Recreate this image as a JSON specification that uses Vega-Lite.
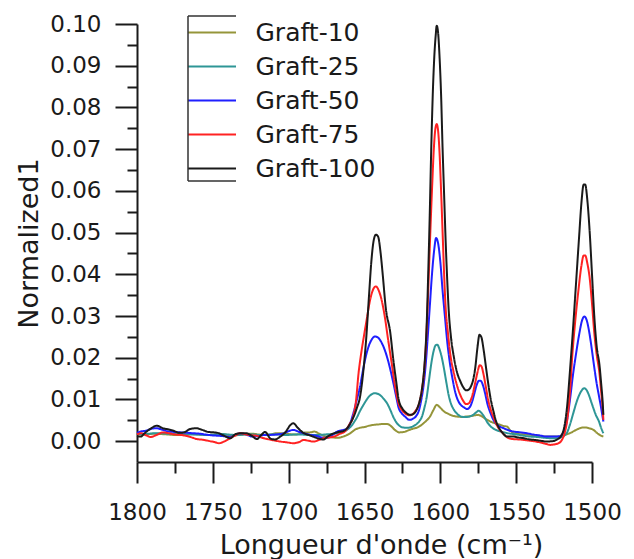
{
  "$schema": "https://vega.github.io/schema/vega-lite/v6.json",
  "autosize": {"type": "none"},
  "width": 455,
  "height": 438,
  "padding": {"left": 137, "top": 24, "right": 42, "bottom": 97},
  "background": "white",
  "config": {"view": {"stroke": null}, "font": "DejaVu Sans"},
  "data": {"values": [
    {"w":1800,"s":"Graft-10","a":0.0017},{"w":1796,"s":"Graft-10","a":0.0016},{"w":1792,"s":"Graft-10","a":0.0017},{"w":1788,"s":"Graft-10","a":0.0018},{"w":1784,"s":"Graft-10","a":0.0017},{"w":1780,"s":"Graft-10","a":0.0016},{"w":1776,"s":"Graft-10","a":0.0015},{"w":1772,"s":"Graft-10","a":0.0015},{"w":1768,"s":"Graft-10","a":0.0016},{"w":1764,"s":"Graft-10","a":0.0017},{"w":1760,"s":"Graft-10","a":0.0016},{"w":1756,"s":"Graft-10","a":0.0015},{"w":1752,"s":"Graft-10","a":0.0015},{"w":1748,"s":"Graft-10","a":0.0016},{"w":1744,"s":"Graft-10","a":0.0016},{"w":1740,"s":"Graft-10","a":0.0015},{"w":1736,"s":"Graft-10","a":0.0014},{"w":1732,"s":"Graft-10","a":0.0015},{"w":1728,"s":"Graft-10","a":0.0017},{"w":1724,"s":"Graft-10","a":0.0018},{"w":1720,"s":"Graft-10","a":0.0016},{"w":1716,"s":"Graft-10","a":0.0015},{"w":1712,"s":"Graft-10","a":0.0016},{"w":1708,"s":"Graft-10","a":0.0019},{"w":1704,"s":"Graft-10","a":0.0019},{"w":1700,"s":"Graft-10","a":0.0017},{"w":1696,"s":"Graft-10","a":0.0016},{"w":1692,"s":"Graft-10","a":0.0018},{"w":1689,"s":"Graft-10","a":0.0021},{"w":1686,"s":"Graft-10","a":0.0021},{"w":1683,"s":"Graft-10","a":0.0023},{"w":1680,"s":"Graft-10","a":0.0018},{"w":1677,"s":"Graft-10","a":0.0013},{"w":1674,"s":"Graft-10","a":0.0010},{"w":1671,"s":"Graft-10","a":0.0009},{"w":1668,"s":"Graft-10","a":0.0008},{"w":1665,"s":"Graft-10","a":0.0010},{"w":1662,"s":"Graft-10","a":0.0014},{"w":1659,"s":"Graft-10","a":0.0020},{"w":1656,"s":"Graft-10","a":0.0028},{"w":1653,"s":"Graft-10","a":0.0032},{"w":1650,"s":"Graft-10","a":0.0034},{"w":1647,"s":"Graft-10","a":0.0037},{"w":1644,"s":"Graft-10","a":0.0039},{"w":1641,"s":"Graft-10","a":0.0040},{"w":1638,"s":"Graft-10","a":0.0041},{"w":1635,"s":"Graft-10","a":0.0041},{"w":1632.5,"s":"Graft-10","a":0.0036},{"w":1630,"s":"Graft-10","a":0.0027},{"w":1627,"s":"Graft-10","a":0.0021},{"w":1624,"s":"Graft-10","a":0.0022},{"w":1621,"s":"Graft-10","a":0.0026},{"w":1618,"s":"Graft-10","a":0.0030},{"w":1615,"s":"Graft-10","a":0.0033},{"w":1612,"s":"Graft-10","a":0.0040},{"w":1609.5,"s":"Graft-10","a":0.0048},{"w":1607,"s":"Graft-10","a":0.0058},{"w":1604.5,"s":"Graft-10","a":0.0075},{"w":1602.4,"s":"Graft-10","a":0.0087},{"w":1600,"s":"Graft-10","a":0.0080},{"w":1597.5,"s":"Graft-10","a":0.0071},{"w":1595,"s":"Graft-10","a":0.0066},{"w":1592,"s":"Graft-10","a":0.0061},{"w":1589,"s":"Graft-10","a":0.0059},{"w":1586,"s":"Graft-10","a":0.0058},{"w":1583,"s":"Graft-10","a":0.0059},{"w":1580,"s":"Graft-10","a":0.0060},{"w":1577,"s":"Graft-10","a":0.0062},{"w":1575,"s":"Graft-10","a":0.0063},{"w":1573,"s":"Graft-10","a":0.0060},{"w":1570,"s":"Graft-10","a":0.0053},{"w":1567,"s":"Graft-10","a":0.0047},{"w":1564,"s":"Graft-10","a":0.0043},{"w":1561,"s":"Graft-10","a":0.0040},{"w":1558,"s":"Graft-10","a":0.0036},{"w":1556,"s":"Graft-10","a":0.0035},{"w":1554,"s":"Graft-10","a":0.0026},{"w":1551.5,"s":"Graft-10","a":0.0019},{"w":1548,"s":"Graft-10","a":0.0017},{"w":1544,"s":"Graft-10","a":0.0016},{"w":1540,"s":"Graft-10","a":0.0015},{"w":1535,"s":"Graft-10","a":0.0013},{"w":1530,"s":"Graft-10","a":0.0011},{"w":1525,"s":"Graft-10","a":0.0011},{"w":1521,"s":"Graft-10","a":0.0011},{"w":1517,"s":"Graft-10","a":0.0016},{"w":1514,"s":"Graft-10","a":0.0020},{"w":1511,"s":"Graft-10","a":0.0026},{"w":1508,"s":"Graft-10","a":0.0031},{"w":1505,"s":"Graft-10","a":0.0033},{"w":1502,"s":"Graft-10","a":0.0031},{"w":1499,"s":"Graft-10","a":0.0027},{"w":1496.5,"s":"Graft-10","a":0.0019},{"w":1494.5,"s":"Graft-10","a":0.0014},{"w":1492.5,"s":"Graft-10","a":0.0011},

    {"w":1800,"s":"Graft-25","a":0.0018},{"w":1796,"s":"Graft-25","a":0.0017},{"w":1792,"s":"Graft-25","a":0.0018},{"w":1788,"s":"Graft-25","a":0.0019},{"w":1784,"s":"Graft-25","a":0.0019},{"w":1780,"s":"Graft-25","a":0.0018},{"w":1776,"s":"Graft-25","a":0.0018},{"w":1772,"s":"Graft-25","a":0.0017},{"w":1768,"s":"Graft-25","a":0.0016},{"w":1764,"s":"Graft-25","a":0.0016},{"w":1760,"s":"Graft-25","a":0.0016},{"w":1756,"s":"Graft-25","a":0.0015},{"w":1752,"s":"Graft-25","a":0.0015},{"w":1748,"s":"Graft-25","a":0.0016},{"w":1744,"s":"Graft-25","a":0.0017},{"w":1740,"s":"Graft-25","a":0.0016},{"w":1736,"s":"Graft-25","a":0.0015},{"w":1732,"s":"Graft-25","a":0.0015},{"w":1728,"s":"Graft-25","a":0.0016},{"w":1724,"s":"Graft-25","a":0.0016},{"w":1720,"s":"Graft-25","a":0.0015},{"w":1716,"s":"Graft-25","a":0.0015},{"w":1712,"s":"Graft-25","a":0.0016},{"w":1708,"s":"Graft-25","a":0.0016},{"w":1704,"s":"Graft-25","a":0.0015},{"w":1700,"s":"Graft-25","a":0.0015},{"w":1696,"s":"Graft-25","a":0.0016},{"w":1692,"s":"Graft-25","a":0.0016},{"w":1688,"s":"Graft-25","a":0.0015},{"w":1684,"s":"Graft-25","a":0.0015},{"w":1680,"s":"Graft-25","a":0.0015},{"w":1676,"s":"Graft-25","a":0.0016},{"w":1672,"s":"Graft-25","a":0.0017},{"w":1668,"s":"Graft-25","a":0.0019},{"w":1665,"s":"Graft-25","a":0.0021},{"w":1662,"s":"Graft-25","a":0.0026},{"w":1659,"s":"Graft-25","a":0.0035},{"w":1657,"s":"Graft-25","a":0.0045},{"w":1655,"s":"Graft-25","a":0.0057},{"w":1653,"s":"Graft-25","a":0.0072},{"w":1651,"s":"Graft-25","a":0.0085},{"w":1649,"s":"Graft-25","a":0.0097},{"w":1647,"s":"Graft-25","a":0.0107},{"w":1645,"s":"Graft-25","a":0.0113},{"w":1643,"s":"Graft-25","a":0.0115},{"w":1641,"s":"Graft-25","a":0.0113},{"w":1639,"s":"Graft-25","a":0.0108},{"w":1637,"s":"Graft-25","a":0.0100},{"w":1635,"s":"Graft-25","a":0.0090},{"w":1633,"s":"Graft-25","a":0.0075},{"w":1631,"s":"Graft-25","a":0.0058},{"w":1629,"s":"Graft-25","a":0.0045},{"w":1627,"s":"Graft-25","a":0.0037},{"w":1625,"s":"Graft-25","a":0.0033},{"w":1622,"s":"Graft-25","a":0.0032},{"w":1619,"s":"Graft-25","a":0.0034},{"w":1616,"s":"Graft-25","a":0.0040},{"w":1614,"s":"Graft-25","a":0.0047},{"w":1612,"s":"Graft-25","a":0.0060},{"w":1610.5,"s":"Graft-25","a":0.0080},{"w":1609,"s":"Graft-25","a":0.0105},{"w":1607.5,"s":"Graft-25","a":0.0145},{"w":1606,"s":"Graft-25","a":0.0185},{"w":1604.5,"s":"Graft-25","a":0.0215},{"w":1603,"s":"Graft-25","a":0.0230},{"w":1602,"s":"Graft-25","a":0.0231},{"w":1600.5,"s":"Graft-25","a":0.0220},{"w":1599,"s":"Graft-25","a":0.0200},{"w":1597.5,"s":"Graft-25","a":0.0172},{"w":1596,"s":"Graft-25","a":0.0140},{"w":1594.5,"s":"Graft-25","a":0.0110},{"w":1593,"s":"Graft-25","a":0.0090},{"w":1591,"s":"Graft-25","a":0.0075},{"w":1589,"s":"Graft-25","a":0.0066},{"w":1587,"s":"Graft-25","a":0.0060},{"w":1585,"s":"Graft-25","a":0.0058},{"w":1582.5,"s":"Graft-25","a":0.0058},{"w":1580,"s":"Graft-25","a":0.0060},{"w":1578,"s":"Graft-25","a":0.0064},{"w":1576,"s":"Graft-25","a":0.0070},{"w":1574.8,"s":"Graft-25","a":0.0073},{"w":1573,"s":"Graft-25","a":0.0068},{"w":1571,"s":"Graft-25","a":0.0058},{"w":1569,"s":"Graft-25","a":0.0045},{"w":1567,"s":"Graft-25","a":0.0036},{"w":1564.5,"s":"Graft-25","a":0.0029},{"w":1562,"s":"Graft-25","a":0.0025},{"w":1558,"s":"Graft-25","a":0.0021},{"w":1554,"s":"Graft-25","a":0.0018},{"w":1550,"s":"Graft-25","a":0.0016},{"w":1545,"s":"Graft-25","a":0.0013},{"w":1541,"s":"Graft-25","a":0.0011},{"w":1536,"s":"Graft-25","a":0.0010},{"w":1531,"s":"Graft-25","a":0.0008},{"w":1527,"s":"Graft-25","a":0.0007},{"w":1523,"s":"Graft-25","a":0.0007},{"w":1520,"s":"Graft-25","a":0.0010},{"w":1518,"s":"Graft-25","a":0.0014},{"w":1516.5,"s":"Graft-25","a":0.0020},{"w":1514.5,"s":"Graft-25","a":0.0040},{"w":1512.5,"s":"Graft-25","a":0.0065},{"w":1510.5,"s":"Graft-25","a":0.0090},{"w":1508.5,"s":"Graft-25","a":0.0110},{"w":1506.5,"s":"Graft-25","a":0.0123},{"w":1505,"s":"Graft-25","a":0.0127},{"w":1503.5,"s":"Graft-25","a":0.0122},{"w":1502,"s":"Graft-25","a":0.0110},{"w":1500.5,"s":"Graft-25","a":0.0094},{"w":1499,"s":"Graft-25","a":0.0078},{"w":1497.5,"s":"Graft-25","a":0.0063},{"w":1495.5,"s":"Graft-25","a":0.0048},{"w":1494,"s":"Graft-25","a":0.0032},{"w":1492.5,"s":"Graft-25","a":0.0019},

    {"w":1800,"s":"Graft-50","a":0.0020},{"w":1797.5,"s":"Graft-50","a":0.0023},{"w":1794,"s":"Graft-50","a":0.0025},{"w":1790,"s":"Graft-50","a":0.0030},{"w":1787,"s":"Graft-50","a":0.0031},{"w":1783,"s":"Graft-50","a":0.0027},{"w":1779,"s":"Graft-50","a":0.0023},{"w":1775,"s":"Graft-50","a":0.0022},{"w":1771,"s":"Graft-50","a":0.0021},{"w":1767,"s":"Graft-50","a":0.0020},{"w":1763,"s":"Graft-50","a":0.0019},{"w":1759,"s":"Graft-50","a":0.0018},{"w":1755,"s":"Graft-50","a":0.0016},{"w":1751,"s":"Graft-50","a":0.0014},{"w":1747,"s":"Graft-50","a":0.0013},{"w":1743,"s":"Graft-50","a":0.0012},{"w":1738.5,"s":"Graft-50","a":0.0010},{"w":1735,"s":"Graft-50","a":0.0015},{"w":1732,"s":"Graft-50","a":0.0019},{"w":1728,"s":"Graft-50","a":0.0016},{"w":1724,"s":"Graft-50","a":0.0011},{"w":1720,"s":"Graft-50","a":0.0012},{"w":1716,"s":"Graft-50","a":0.0015},{"w":1712,"s":"Graft-50","a":0.0015},{"w":1708,"s":"Graft-50","a":0.0016},{"w":1704,"s":"Graft-50","a":0.0018},{"w":1700,"s":"Graft-50","a":0.0024},{"w":1697,"s":"Graft-50","a":0.0027},{"w":1693,"s":"Graft-50","a":0.0022},{"w":1689,"s":"Graft-50","a":0.0018},{"w":1685.5,"s":"Graft-50","a":0.0015},{"w":1681,"s":"Graft-50","a":0.0012},{"w":1677,"s":"Graft-50","a":0.0008},{"w":1674.5,"s":"Graft-50","a":0.0008},{"w":1671,"s":"Graft-50","a":0.0015},{"w":1668,"s":"Graft-50","a":0.0023},{"w":1665,"s":"Graft-50","a":0.0026},{"w":1662,"s":"Graft-50","a":0.0029},{"w":1660,"s":"Graft-50","a":0.0038},{"w":1657.5,"s":"Graft-50","a":0.0065},{"w":1655,"s":"Graft-50","a":0.0100},{"w":1653,"s":"Graft-50","a":0.0130},{"w":1651,"s":"Graft-50","a":0.0170},{"w":1649,"s":"Graft-50","a":0.0205},{"w":1647,"s":"Graft-50","a":0.0230},{"w":1645,"s":"Graft-50","a":0.0245},{"w":1643,"s":"Graft-50","a":0.0251},{"w":1641,"s":"Graft-50","a":0.0248},{"w":1639,"s":"Graft-50","a":0.0238},{"w":1637,"s":"Graft-50","a":0.0222},{"w":1635,"s":"Graft-50","a":0.0200},{"w":1633,"s":"Graft-50","a":0.0172},{"w":1631,"s":"Graft-50","a":0.0140},{"w":1629,"s":"Graft-50","a":0.0105},{"w":1627.5,"s":"Graft-50","a":0.0080},{"w":1625.5,"s":"Graft-50","a":0.0067},{"w":1623,"s":"Graft-50","a":0.0058},{"w":1620.5,"s":"Graft-50","a":0.0051},{"w":1618,"s":"Graft-50","a":0.0054},{"w":1616,"s":"Graft-50","a":0.0060},{"w":1614,"s":"Graft-50","a":0.0075},{"w":1612.5,"s":"Graft-50","a":0.0100},{"w":1611,"s":"Graft-50","a":0.0135},{"w":1609.5,"s":"Graft-50","a":0.0190},{"w":1608.3,"s":"Graft-50","a":0.0250},{"w":1607,"s":"Graft-50","a":0.0320},{"w":1605.5,"s":"Graft-50","a":0.0400},{"w":1604,"s":"Graft-50","a":0.0460},{"w":1602.8,"s":"Graft-50","a":0.0487},{"w":1601.5,"s":"Graft-50","a":0.0475},{"w":1600,"s":"Graft-50","a":0.0430},{"w":1598.5,"s":"Graft-50","a":0.0360},{"w":1597,"s":"Graft-50","a":0.0300},{"w":1595.5,"s":"Graft-50","a":0.0240},{"w":1594,"s":"Graft-50","a":0.0195},{"w":1592,"s":"Graft-50","a":0.0150},{"w":1590,"s":"Graft-50","a":0.0115},{"w":1588,"s":"Graft-50","a":0.0095},{"w":1586,"s":"Graft-50","a":0.0085},{"w":1584,"s":"Graft-50","a":0.0080},{"w":1582.4,"s":"Graft-50","a":0.0077},{"w":1580.5,"s":"Graft-50","a":0.0082},{"w":1579,"s":"Graft-50","a":0.0095},{"w":1577.5,"s":"Graft-50","a":0.0115},{"w":1576,"s":"Graft-50","a":0.0135},{"w":1574.5,"s":"Graft-50","a":0.0145},{"w":1573.5,"s":"Graft-50","a":0.0145},{"w":1572,"s":"Graft-50","a":0.0135},{"w":1570.5,"s":"Graft-50","a":0.0115},{"w":1569,"s":"Graft-50","a":0.0090},{"w":1567,"s":"Graft-50","a":0.0068},{"w":1565,"s":"Graft-50","a":0.0051},{"w":1562,"s":"Graft-50","a":0.0038},{"w":1558.3,"s":"Graft-50","a":0.0031},{"w":1555,"s":"Graft-50","a":0.0026},{"w":1551.7,"s":"Graft-50","a":0.0023},{"w":1547,"s":"Graft-50","a":0.0021},{"w":1543,"s":"Graft-50","a":0.0019},{"w":1539,"s":"Graft-50","a":0.0016},{"w":1535,"s":"Graft-50","a":0.0014},{"w":1530,"s":"Graft-50","a":0.0011},{"w":1525,"s":"Graft-50","a":0.0011},{"w":1521,"s":"Graft-50","a":0.0012},{"w":1518.5,"s":"Graft-50","a":0.0025},{"w":1516.5,"s":"Graft-50","a":0.0050},{"w":1514.5,"s":"Graft-50","a":0.0100},{"w":1512.5,"s":"Graft-50","a":0.0160},{"w":1510.5,"s":"Graft-50","a":0.0210},{"w":1508.5,"s":"Graft-50","a":0.0255},{"w":1506.5,"s":"Graft-50","a":0.0290},{"w":1505,"s":"Graft-50","a":0.0299},{"w":1503.5,"s":"Graft-50","a":0.0290},{"w":1502,"s":"Graft-50","a":0.0265},{"w":1500.5,"s":"Graft-50","a":0.0230},{"w":1499,"s":"Graft-50","a":0.0190},{"w":1497,"s":"Graft-50","a":0.0140},{"w":1495.5,"s":"Graft-50","a":0.0110},{"w":1494,"s":"Graft-50","a":0.0080},{"w":1492.5,"s":"Graft-50","a":0.0047},

    {"w":1800,"s":"Graft-75","a":0.0016},{"w":1797.5,"s":"Graft-75","a":0.0019},{"w":1794,"s":"Graft-75","a":0.0014},{"w":1791,"s":"Graft-75","a":0.0010},{"w":1787,"s":"Graft-75","a":0.0015},{"w":1783,"s":"Graft-75","a":0.0021},{"w":1779,"s":"Graft-75","a":0.0019},{"w":1775,"s":"Graft-75","a":0.0016},{"w":1771.5,"s":"Graft-75","a":0.0015},{"w":1768,"s":"Graft-75","a":0.0013},{"w":1764,"s":"Graft-75","a":0.0009},{"w":1760.5,"s":"Graft-75","a":0.0005},{"w":1756,"s":"Graft-75","a":0.0003},{"w":1752,"s":"Graft-75","a":0.0000},{"w":1749,"s":"Graft-75","a":-0.0002},{"w":1746,"s":"Graft-75","a":-0.0005},{"w":1742,"s":"Graft-75","a":0.0000},{"w":1738.5,"s":"Graft-75","a":0.0007},{"w":1735,"s":"Graft-75","a":0.0014},{"w":1732,"s":"Graft-75","a":0.0019},{"w":1728,"s":"Graft-75","a":0.0016},{"w":1724,"s":"Graft-75","a":0.0014},{"w":1721,"s":"Graft-75","a":0.0013},{"w":1717.5,"s":"Graft-75","a":0.0008},{"w":1714,"s":"Graft-75","a":0.0005},{"w":1710,"s":"Graft-75","a":0.0002},{"w":1705.5,"s":"Graft-75","a":-0.0001},{"w":1701,"s":"Graft-75","a":-0.0003},{"w":1697,"s":"Graft-75","a":-0.0005},{"w":1693,"s":"Graft-75","a":-0.0002},{"w":1690,"s":"Graft-75","a":0.0003},{"w":1687,"s":"Graft-75","a":0.0001},{"w":1683.5,"s":"Graft-75","a":-0.0001},{"w":1680,"s":"Graft-75","a":0.0003},{"w":1677,"s":"Graft-75","a":0.0007},{"w":1673,"s":"Graft-75","a":0.0009},{"w":1670,"s":"Graft-75","a":0.0011},{"w":1666,"s":"Graft-75","a":0.0018},{"w":1663,"s":"Graft-75","a":0.0023},{"w":1660,"s":"Graft-75","a":0.0040},{"w":1657.5,"s":"Graft-75","a":0.0058},{"w":1655.5,"s":"Graft-75","a":0.0100},{"w":1654,"s":"Graft-75","a":0.0160},{"w":1652,"s":"Graft-75","a":0.0215},{"w":1650,"s":"Graft-75","a":0.0260},{"w":1648.4,"s":"Graft-75","a":0.0295},{"w":1646.5,"s":"Graft-75","a":0.0335},{"w":1644.5,"s":"Graft-75","a":0.0362},{"w":1642.5,"s":"Graft-75","a":0.0371},{"w":1640.5,"s":"Graft-75","a":0.0360},{"w":1638.5,"s":"Graft-75","a":0.0335},{"w":1636.7,"s":"Graft-75","a":0.0300},{"w":1634.5,"s":"Graft-75","a":0.0245},{"w":1632,"s":"Graft-75","a":0.0185},{"w":1630,"s":"Graft-75","a":0.0135},{"w":1627.5,"s":"Graft-75","a":0.0090},{"w":1625,"s":"Graft-75","a":0.0073},{"w":1623,"s":"Graft-75","a":0.0066},{"w":1620.5,"s":"Graft-75","a":0.0062},{"w":1618.5,"s":"Graft-75","a":0.0064},{"w":1616.5,"s":"Graft-75","a":0.0072},{"w":1614.5,"s":"Graft-75","a":0.0085},{"w":1612.5,"s":"Graft-75","a":0.0115},{"w":1611,"s":"Graft-75","a":0.0155},{"w":1609.5,"s":"Graft-75","a":0.0230},{"w":1608.3,"s":"Graft-75","a":0.0330},{"w":1607.3,"s":"Graft-75","a":0.0430},{"w":1606.3,"s":"Graft-75","a":0.0530},{"w":1605.3,"s":"Graft-75","a":0.0620},{"w":1604.3,"s":"Graft-75","a":0.0700},{"w":1603.3,"s":"Graft-75","a":0.0748},{"w":1602.4,"s":"Graft-75","a":0.0760},{"w":1601.5,"s":"Graft-75","a":0.0745},{"w":1600.5,"s":"Graft-75","a":0.0690},{"w":1599.5,"s":"Graft-75","a":0.0600},{"w":1598.5,"s":"Graft-75","a":0.0500},{"w":1597.5,"s":"Graft-75","a":0.0400},{"w":1596.5,"s":"Graft-75","a":0.0320},{"w":1595,"s":"Graft-75","a":0.0260},{"w":1593.5,"s":"Graft-75","a":0.0210},{"w":1591.5,"s":"Graft-75","a":0.0170},{"w":1589.5,"s":"Graft-75","a":0.0140},{"w":1587,"s":"Graft-75","a":0.0112},{"w":1585,"s":"Graft-75","a":0.0097},{"w":1583,"s":"Graft-75","a":0.0089},{"w":1581.5,"s":"Graft-75","a":0.0090},{"w":1580,"s":"Graft-75","a":0.0098},{"w":1578.5,"s":"Graft-75","a":0.0115},{"w":1577,"s":"Graft-75","a":0.0140},{"w":1575.5,"s":"Graft-75","a":0.0165},{"w":1574,"s":"Graft-75","a":0.0182},{"w":1573,"s":"Graft-75","a":0.0180},{"w":1571.5,"s":"Graft-75","a":0.0160},{"w":1570,"s":"Graft-75","a":0.0130},{"w":1568.5,"s":"Graft-75","a":0.0100},{"w":1567,"s":"Graft-75","a":0.0078},{"w":1565,"s":"Graft-75","a":0.0058},{"w":1563,"s":"Graft-75","a":0.0040},{"w":1561,"s":"Graft-75","a":0.0028},{"w":1558.5,"s":"Graft-75","a":0.0018},{"w":1555.5,"s":"Graft-75","a":0.0008},{"w":1552,"s":"Graft-75","a":0.0005},{"w":1548,"s":"Graft-75","a":0.0004},{"w":1545,"s":"Graft-75","a":0.0003},{"w":1541,"s":"Graft-75","a":0.0001},{"w":1537,"s":"Graft-75","a":-0.0001},{"w":1533,"s":"Graft-75","a":-0.0004},{"w":1530,"s":"Graft-75","a":-0.0007},{"w":1527.5,"s":"Graft-75","a":-0.0009},{"w":1525,"s":"Graft-75","a":-0.0008},{"w":1522,"s":"Graft-75","a":-0.0005},{"w":1520,"s":"Graft-75","a":0.0002},{"w":1518,"s":"Graft-75","a":0.0020},{"w":1516,"s":"Graft-75","a":0.0060},{"w":1514.5,"s":"Graft-75","a":0.0120},{"w":1513,"s":"Graft-75","a":0.0205},{"w":1511,"s":"Graft-75","a":0.0290},{"w":1509,"s":"Graft-75","a":0.0360},{"w":1507,"s":"Graft-75","a":0.0420},{"w":1505.5,"s":"Graft-75","a":0.0445},{"w":1504.5,"s":"Graft-75","a":0.0445},{"w":1503,"s":"Graft-75","a":0.0425},{"w":1501.5,"s":"Graft-75","a":0.0390},{"w":1500,"s":"Graft-75","a":0.0330},{"w":1498.5,"s":"Graft-75","a":0.0260},{"w":1497,"s":"Graft-75","a":0.0210},{"w":1495,"s":"Graft-75","a":0.0160},{"w":1494,"s":"Graft-75","a":0.0120},{"w":1493,"s":"Graft-75","a":0.0080},{"w":1492.5,"s":"Graft-75","a":0.0051},

    {"w":1800,"s":"Graft-100","a":0.0012},{"w":1797.5,"s":"Graft-100","a":0.0011},{"w":1795,"s":"Graft-100","a":0.0019},{"w":1791,"s":"Graft-100","a":0.0030},{"w":1787,"s":"Graft-100","a":0.0037},{"w":1783,"s":"Graft-100","a":0.0031},{"w":1779,"s":"Graft-100","a":0.0028},{"w":1776,"s":"Graft-100","a":0.0025},{"w":1772,"s":"Graft-100","a":0.0020},{"w":1769,"s":"Graft-100","a":0.0021},{"w":1765,"s":"Graft-100","a":0.0029},{"w":1761,"s":"Graft-100","a":0.0031},{"w":1757,"s":"Graft-100","a":0.0027},{"w":1753,"s":"Graft-100","a":0.0022},{"w":1749,"s":"Graft-100","a":0.0021},{"w":1746,"s":"Graft-100","a":0.0019},{"w":1742,"s":"Graft-100","a":0.0012},{"w":1738.5,"s":"Graft-100","a":0.0007},{"w":1735,"s":"Graft-100","a":0.0017},{"w":1731,"s":"Graft-100","a":0.0019},{"w":1728,"s":"Graft-100","a":0.0019},{"w":1724,"s":"Graft-100","a":0.0012},{"w":1721,"s":"Graft-100","a":0.0005},{"w":1718,"s":"Graft-100","a":0.0015},{"w":1715.5,"s":"Graft-100","a":0.0022},{"w":1712,"s":"Graft-100","a":0.0006},{"w":1709,"s":"Graft-100","a":0.0004},{"w":1705.5,"s":"Graft-100","a":0.0011},{"w":1702,"s":"Graft-100","a":0.0022},{"w":1699,"s":"Graft-100","a":0.0038},{"w":1697,"s":"Graft-100","a":0.0043},{"w":1694,"s":"Graft-100","a":0.0032},{"w":1690,"s":"Graft-100","a":0.0019},{"w":1687,"s":"Graft-100","a":0.0015},{"w":1684,"s":"Graft-100","a":0.0011},{"w":1680,"s":"Graft-100","a":0.0006},{"w":1677,"s":"Graft-100","a":0.0004},{"w":1674,"s":"Graft-100","a":0.0012},{"w":1670,"s":"Graft-100","a":0.0019},{"w":1667,"s":"Graft-100","a":0.0022},{"w":1664,"s":"Graft-100","a":0.0024},{"w":1661,"s":"Graft-100","a":0.0033},{"w":1659,"s":"Graft-100","a":0.0045},{"w":1657,"s":"Graft-100","a":0.0060},{"w":1655,"s":"Graft-100","a":0.0080},{"w":1653,"s":"Graft-100","a":0.0105},{"w":1651,"s":"Graft-100","a":0.0160},{"w":1649,"s":"Graft-100","a":0.0240},{"w":1647,"s":"Graft-100","a":0.0350},{"w":1645.5,"s":"Graft-100","a":0.0430},{"w":1644,"s":"Graft-100","a":0.0480},{"w":1642.5,"s":"Graft-100","a":0.0495},{"w":1641,"s":"Graft-100","a":0.0490},{"w":1639.5,"s":"Graft-100","a":0.0455},{"w":1638,"s":"Graft-100","a":0.0400},{"w":1636,"s":"Graft-100","a":0.0320},{"w":1633,"s":"Graft-100","a":0.0260},{"w":1631,"s":"Graft-100","a":0.0195},{"w":1629,"s":"Graft-100","a":0.0140},{"w":1627.5,"s":"Graft-100","a":0.0100},{"w":1625,"s":"Graft-100","a":0.0078},{"w":1622.5,"s":"Graft-100","a":0.0068},{"w":1620,"s":"Graft-100","a":0.0063},{"w":1617.5,"s":"Graft-100","a":0.0066},{"w":1615.5,"s":"Graft-100","a":0.0076},{"w":1613.5,"s":"Graft-100","a":0.0098},{"w":1612,"s":"Graft-100","a":0.0128},{"w":1610.5,"s":"Graft-100","a":0.0180},{"w":1609,"s":"Graft-100","a":0.0280},{"w":1608,"s":"Graft-100","a":0.0400},{"w":1607,"s":"Graft-100","a":0.0540},{"w":1606,"s":"Graft-100","a":0.0700},{"w":1605,"s":"Graft-100","a":0.0830},{"w":1604,"s":"Graft-100","a":0.0920},{"w":1603,"s":"Graft-100","a":0.0975},{"w":1602.4,"s":"Graft-100","a":0.0996},{"w":1601.5,"s":"Graft-100","a":0.0980},{"w":1600.5,"s":"Graft-100","a":0.0920},{"w":1599.5,"s":"Graft-100","a":0.0830},{"w":1598.5,"s":"Graft-100","a":0.0700},{"w":1597.5,"s":"Graft-100","a":0.0590},{"w":1596.5,"s":"Graft-100","a":0.0480},{"w":1595.5,"s":"Graft-100","a":0.0390},{"w":1594.5,"s":"Graft-100","a":0.0315},{"w":1593,"s":"Graft-100","a":0.0250},{"w":1591,"s":"Graft-100","a":0.0200},{"w":1589,"s":"Graft-100","a":0.0165},{"w":1587,"s":"Graft-100","a":0.0145},{"w":1585,"s":"Graft-100","a":0.0130},{"w":1583,"s":"Graft-100","a":0.0122},{"w":1581.5,"s":"Graft-100","a":0.0123},{"w":1580,"s":"Graft-100","a":0.0130},{"w":1578.5,"s":"Graft-100","a":0.0145},{"w":1577,"s":"Graft-100","a":0.0175},{"w":1575.5,"s":"Graft-100","a":0.0225},{"w":1574.2,"s":"Graft-100","a":0.0255},{"w":1573,"s":"Graft-100","a":0.0250},{"w":1571.5,"s":"Graft-100","a":0.0220},{"w":1570,"s":"Graft-100","a":0.0180},{"w":1568.5,"s":"Graft-100","a":0.0140},{"w":1567,"s":"Graft-100","a":0.0105},{"w":1565,"s":"Graft-100","a":0.0072},{"w":1563,"s":"Graft-100","a":0.0045},{"w":1561,"s":"Graft-100","a":0.0030},{"w":1559,"s":"Graft-100","a":0.0020},{"w":1556,"s":"Graft-100","a":0.0011},{"w":1552,"s":"Graft-100","a":0.0011},{"w":1549,"s":"Graft-100","a":0.0009},{"w":1545,"s":"Graft-100","a":0.0007},{"w":1541,"s":"Graft-100","a":0.0004},{"w":1538,"s":"Graft-100","a":0.0003},{"w":1534,"s":"Graft-100","a":0.0001},{"w":1530,"s":"Graft-100","a":-0.0001},{"w":1526,"s":"Graft-100","a":0.0000},{"w":1523,"s":"Graft-100","a":0.0004},{"w":1520.5,"s":"Graft-100","a":0.0012},{"w":1518.5,"s":"Graft-100","a":0.0030},{"w":1516.5,"s":"Graft-100","a":0.0080},{"w":1514.5,"s":"Graft-100","a":0.0170},{"w":1512.5,"s":"Graft-100","a":0.0270},{"w":1510.5,"s":"Graft-100","a":0.0380},{"w":1508.5,"s":"Graft-100","a":0.0490},{"w":1507,"s":"Graft-100","a":0.0570},{"w":1505.5,"s":"Graft-100","a":0.0615},{"w":1504.5,"s":"Graft-100","a":0.0615},{"w":1503,"s":"Graft-100","a":0.0575},{"w":1501.5,"s":"Graft-100","a":0.0500},{"w":1500,"s":"Graft-100","a":0.0400},{"w":1498.5,"s":"Graft-100","a":0.0300},{"w":1497,"s":"Graft-100","a":0.0230},{"w":1495,"s":"Graft-100","a":0.0180},{"w":1494,"s":"Graft-100","a":0.0140},{"w":1493,"s":"Graft-100","a":0.0095},{"w":1492.5,"s":"Graft-100","a":0.0063}
  ]},
  "mark": {"type": "line", "interpolate": "monotone", "strokeWidth": 2, "clip": false},
  "encoding": {
    "x": {
      "field": "w", "type": "quantitative",
      "scale": {"domain": [1500, 1800], "reverse": true, "nice": false, "zero": false},
      "axis": {
        "title": "Longueur d'onde (cm⁻¹)",
        "values": [1500, 1525, 1550, 1575, 1600, 1625, 1650, 1675, 1700, 1725, 1750, 1775, 1800],
        "format": "d",
        "labelExpr": "datum.value % 50 === 0 ? datum.label : ''",
        "tickSize": {"condition": {"test": "datum.value % 50 === 0", "value": 21}, "value": 11},
        "grid": false,
        "domainColor": "#1a1a1a", "domainWidth": 2,
        "tickColor": "#1a1a1a", "tickWidth": 2,
        "labelFont": "DejaVu Sans", "labelFontSize": 23, "labelColor": "#1a1a1a", "labelPadding": 18,
        "labelFlush": false, "labelOverlap": false,
        "titleFont": "DejaVu Sans", "titleFontSize": 27, "titleFontWeight": "normal", "titleColor": "#1a1a1a",
        "titlePadding": 8, "titleX": 244, "titleAlign": "center"
      }
    },
    "y": {
      "field": "a", "type": "quantitative",
      "scale": {"domain": [-0.005, 0.1], "nice": false, "zero": false},
      "axis": {
        "title": "Normalized1",
        "values": [0, 0.005, 0.01, 0.015, 0.02, 0.025, 0.03, 0.035, 0.04, 0.045, 0.05, 0.055, 0.06, 0.065, 0.07, 0.075, 0.08, 0.085, 0.09, 0.095, 0.1],
        "labelExpr": "abs(datum.value * 100 - round(datum.value * 100)) < 0.01 ? format(datum.value, '.2f') : ''",
        "tickSize": {"condition": {"test": "abs(datum.value * 100 - round(datum.value * 100)) < 0.01", "value": 22}, "value": 10},
        "grid": false,
        "domainColor": "#1a1a1a", "domainWidth": 2,
        "tickColor": "#1a1a1a", "tickWidth": 2,
        "labelFont": "DejaVu Sans", "labelFontSize": 23, "labelColor": "#1a1a1a", "labelPadding": 14,
        "labelFlush": false, "labelOverlap": false,
        "titleFont": "DejaVu Sans", "titleFontSize": 27, "titleFontWeight": "normal", "titleColor": "#1a1a1a",
        "titlePadding": 6
      }
    },
    "color": {
      "field": "s", "type": "nominal",
      "scale": {
        "domain": ["Graft-10", "Graft-25", "Graft-50", "Graft-75", "Graft-100"],
        "range": ["#95953a", "#2e9696", "#1f1fff", "#ff2222", "#1a1a1a"]
      },
      "legend": {
        "orient": "none", "legendX": 61.5, "legendY": -5, "title": null, "padding": 0,
        "symbolType": "M-1.92,-1.32M-1.92,1.32M-1.92,0H1.92",
        "symbolSize": 625, "symbolStrokeWidth": 2,
        "labelFont": "DejaVu Sans", "labelFontSize": 25, "labelColor": "#1a1a1a",
        "labelOffset": 30, "rowPadding": -7,
        "encode": {"symbols": {"update": {"fill": {"value": "transparent"}}}}
      }
    },
    "strokeDash": {
      "field": "s", "type": "nominal",
      "scale": {"range": [[1, 0], [1, 0], [1, 0], [1, 0], [1, 0]]},
      "legend": {
        "orient": "none", "legendX": 61.5, "legendY": -5, "title": null, "padding": 0,
        "symbolSize": 625, "symbolStrokeWidth": 1.5, "symbolStrokeColor": "#333333",
        "labelFont": "DejaVu Sans", "labelFontSize": 25, "labelExpr": "''",
        "labelOffset": 30, "rowPadding": -7,
        "encode": {"symbols": {"update": {
          "fill": {"value": "transparent"},
          "stroke": {"value": "#333333"},
          "strokeDash": {"value": [1, 0]},
          "shape": {"signal": "datum.index === 0 ? 'M1.92,-1.32H-1.92V1.32' : (datum.index === 4 ? 'M-1.92,-1.32V1.32H1.92' : 'M-1.92,-1.32V1.32M1.92,0')"}
        }}}
      }
    }
  }
}
